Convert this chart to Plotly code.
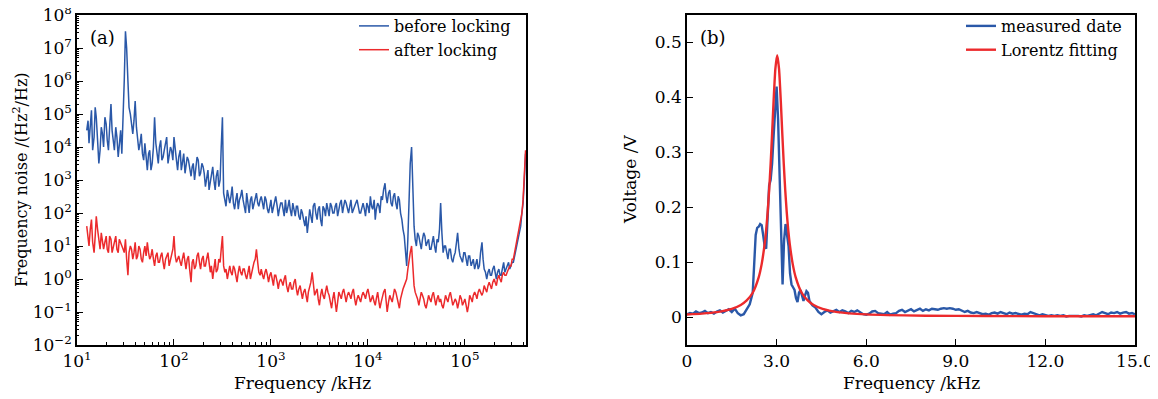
import plotly.graph_objects as go

# ---------------- panel (a): frequency noise spectrum ----------------
# samples on the main grid
freq_khz = [
    12.6, 13.3, 14.1, 15.0, 15.8, 16.8, 17.8, 18.8, 20.0, 21.1, 22.4, 23.7, 25.1, 26.6, 28.2, 29.9, 31.6, 33.5,
    35.5, 37.6, 39.8, 42.2, 44.7, 47.3, 50.1, 53.1, 56.2, 59.6, 63.1, 66.8, 70.8, 75.0, 79.4, 84.1, 89.1, 94.4,
    100, 106, 112, 119, 126, 133, 141, 150, 158, 168, 178, 188, 200, 211, 224, 237, 251, 266, 282, 299,
    316, 335, 355, 376, 398, 422, 447, 473, 501, 531, 562, 596, 631, 668, 708, 750, 794, 841, 891, 944,
    1000, 1060, 1120, 1190, 1260, 1330, 1410, 1500, 1580, 1680, 1780, 1880, 2000, 2110, 2240, 2370, 2510, 2660,
    2820, 2990, 3160, 3350, 3550, 3760, 3980, 4220, 4470, 4730, 5010, 5310, 5620, 5960, 6310, 6680, 7080, 7500,
    7940, 8410, 8910, 9440,
    10000, 10600, 11200, 11900, 12600, 13300, 14100, 15000, 15800, 16800, 17800, 18800, 20000, 21100, 22400,
    23700, 25100, 26600, 28200, 29900, 31600, 33500, 35500, 37600, 39800, 42200, 44700, 47300, 50100, 53100,
    56200, 59600, 63100, 66800, 70800, 75000, 79400, 84100, 89100, 94400,
    100000, 106000, 112000, 119000, 126000, 133000, 141000, 150000, 158000, 168000, 178000, 188000, 200000,
    211000, 224000, 237000, 251000, 266000, 282000, 299000, 316000, 335000, 355000, 376000, 398000, 422000,
]

noise_before = [
    3.2e4, 1.3e4, 1.3e5, 2e4, 8e4, 3.2e3, 4e4, 1e4, 5e4, 8e3, 2e5, 1.6e4, 4e4, 5e3, 3.2e4, 6.3e4, 3.2e7, 1e6,
    1e5, 2.5e4, 2.5e5, 2e4, 1.3e4, 6.3e3, 1.3e4, 2e3, 8e3, 3.2e3, 8e4, 6.3e3, 1e4, 4e3, 8e3, 2e4, 5e3, 8e3,
    2e4, 4e3, 5e3, 2e3, 6.3e3, 2.5e3, 4e3, 1.3e3, 3.2e3, 2e3, 4e3, 1.6e3, 2.5e3, 630, 2e3, 800, 2.5e3, 500,
    2e3, 1e3, 8e4, 250, 500, 200, 630, 130, 400, 250, 500, 160, 400, 100, 320, 200, 400, 160, 320, 130,
    250, 100, 250, 160, 320, 80, 200, 130, 250, 160, 130, 200, 80, 160, 63, 100, 40, 25, 130, 50,
    200, 63, 160, 40, 130, 200, 80, 160, 100, 200, 130, 250, 160, 200, 100, 250, 130, 200, 160, 100,
    200, 80, 160, 320, 130, 63, 200, 100, 250, 800, 200, 500, 160, 400, 130, 250, 63, 20, 2.5, 320,
    1e4, 40, 10, 20, 8, 25, 10, 16, 8, 20, 6.3, 13, 200, 6.3, 10, 4, 8, 3.2,
    6.3, 25, 5, 3.2, 6.3, 2.5, 5, 3.2, 2, 4, 2.5, 13, 2, 1, 2, 1.3, 2.5, 1,
    2, 1.3, 3.2, 2, 3.2, 2.5, 3.2, 6.3, 16, 40, 200, 6.3e3,
]

noise_after = [
    40, 10, 63, 6.3, 80, 13, 25, 8, 20, 6.3, 16, 10, 20, 6.3, 13, 8, 16, 1.3,
    10, 4, 13, 5, 8, 3.2, 10, 13, 4, 8, 2.5, 6.3, 3.2, 6.3, 2, 5, 2.5, 6.3,
    20, 3.2, 5, 2.5, 6.3, 2, 5, 0.8, 4, 2.5, 6.3, 2, 5, 2.5, 6.3, 1.6, 1, 4,
    2, 3.2, 20, 1.6, 1, 2.5, 1.3, 2, 0.8, 2.5, 1.3, 2, 1, 2.5, 1.6, 3.2, 8, 1.6,
    2, 1, 2, 0.8, 1.6, 0.63, 1.3, 0.5, 1, 0.63, 1.3, 0.4, 0.8, 0.5, 1, 0.32, 0.63, 0.25,
    0.5, 0.2, 0.63, 1.6, 0.32, 0.5, 0.16, 0.5, 0.25, 0.63, 0.32, 0.13, 0.4, 0.1, 0.4, 0.25, 0.5, 0.2,
    0.4, 0.25, 0.5, 0.16, 0.32, 0.2, 0.4, 0.25, 0.5, 0.2, 0.32, 0.16, 0.4, 0.13, 0.32, 0.5, 0.1, 0.32,
    0.2, 0.5, 0.25, 0.13, 0.4, 0.63, 1, 4, 10, 0.63, 0.32, 0.16, 0.4, 0.25, 0.13, 0.32, 0.2, 0.4,
    0.16, 0.32, 0.25, 0.13, 0.32, 0.2, 0.4, 0.16, 0.25, 0.13, 0.32, 0.16, 0.25, 0.1, 0.32, 0.2, 0.4, 0.25,
    0.5, 0.32, 0.63, 0.4, 0.8, 0.5, 1, 0.63, 1.3, 0.8, 1.6, 1.3, 2, 2.5, 4, 8, 20, 50,
    250, 8e3,
]

# samples lying between the main-grid samples
freq_khz_mid = [
    13.0, 13.7, 14.5, 15.4, 16.3, 17.3, 18.3, 19.4, 20.5, 21.7, 23.0, 24.3, 25.8, 27.3, 29.0, 30.7, 32.5, 34.4,
    36.5, 38.7, 41.0, 43.4, 46.0, 48.7, 51.6, 54.7, 57.9, 61.4, 65.0, 68.9, 73.0, 77.3, 81.9, 86.8, 92.0, 97.4,
    103, 109, 116, 122, 130, 137, 145, 154, 163, 173, 183, 194, 205, 217, 230, 243, 258, 273, 290, 307,
    325, 344, 365, 387, 410, 434, 460, 487, 516, 547, 579, 614, 650, 689, 730, 773, 819, 868, 920, 974,
    1030, 1090, 1160, 1220, 1300, 1370, 1450, 1540, 1630, 1730, 1830, 1940, 2050, 2170, 2300, 2430, 2580, 2730,
    2900, 3070, 3250, 3440, 3650, 3870, 4100, 4340, 4600, 4870, 5160, 5470, 5790, 6140, 6500, 6890, 7300, 7730,
    8190, 8680, 9200, 9740,
    10300, 10900, 11600, 12200, 13000, 13700, 14500, 15400, 16300, 17300, 18300, 19400, 20500, 21700, 23000,
    24300, 25800, 27300, 29000, 30700, 32500, 34400, 36500, 38700, 41000, 43400, 46000, 48700, 51600, 54700,
    57900, 61400, 65000, 68900, 73000, 77300, 81900, 86800, 92000, 97400,
    103000, 109000, 116000, 122000, 130000, 137000, 145000, 154000, 163000, 173000, 183000, 194000, 205000,
    217000, 230000, 243000, 258000, 273000, 290000, 307000, 325000, 344000, 365000, 387000, 410000,
]

noise_before_mid = [
    6.3e4, 4e4, 8e3, 1.6e5, 1.6e4, 8e3, 2.5e4, 8e4, 1.6e4, 4e4, 3.2e4, 8e3, 2e4, 1.3e4, 6.3e3, 1e6, 1e7, 1.6e5,
    4e4, 6.3e4, 4e4, 8e3, 2.5e4, 4e3, 5e3, 6.3e3, 2e3, 1e4, 1.3e4, 3.2e3, 1.6e4, 5e3, 1.3e4, 3.2e3, 1e4, 4e3,
    6.3e3, 2e3, 8e3, 3.2e3, 1.6e3, 5e3, 2e3, 2.5e3, 1e3, 5e3, 1.3e3, 3.2e3, 1.6e3, 1.3e3, 500, 1.3e3, 1e3,
    1.3e3, 630, 1e4, 400, 160, 320, 320, 200, 250, 130, 320, 250, 100, 200, 250, 130, 320, 200, 250,
    200, 320, 130, 160, 100, 200, 160, 130, 200, 80, 100, 250, 80, 130, 160, 80, 130, 63, 80, 50,
    80, 160, 100, 130, 63, 160, 80, 130, 200, 100, 160, 80, 200, 100, 250, 130, 160, 100, 160, 250,
    100, 160, 130, 200, 100, 160, 250, 130, 160, 320, 500, 320, 400, 200, 320, 200, 320, 100, 32, 8,
    16, 3.2e3, 250, 16, 25, 13, 16, 20, 13, 8, 13, 10, 16, 32, 25, 10, 6.3, 8,
    4, 5, 13, 8, 4, 6.3, 4, 5, 2.5, 4, 3.2, 2, 6.3, 4, 1.6, 1.6, 1.3, 2,
    1.6, 1.6, 1.3, 2, 1.6, 2.5, 2, 3.2, 5, 10, 25, 100, 1e3,
]

noise_after_mid = [
    16, 32, 13, 20, 32, 8, 16, 13, 8, 20, 6.3, 13, 8, 16, 10, 6.3, 4, 6.3,
    8, 6.3, 4, 10, 4, 6.3, 5, 6.3, 5, 4, 5, 3.2, 5, 3.2, 4, 6.3, 4, 8,
    5, 4, 3.2, 4, 3.2, 4, 2, 3.2, 2, 5, 3.2, 4, 2.5, 4, 3.2, 2.5, 2, 1.6,
    4, 8, 2.5, 2, 1.6, 1.6, 2.5, 1.3, 1.6, 1.6, 2, 1.3, 1.6, 1, 2, 4, 3.2, 1.3,
    1.3, 1.6, 1.3, 1.3, 1, 1.3, 0.8, 0.8, 0.8, 1, 0.63, 0.63, 0.5, 0.8, 0.5, 0.5, 0.4, 0.4,
    0.32, 0.4, 0.8, 0.63, 0.4, 0.25, 0.32, 0.32, 0.4, 0.4, 0.2, 0.25, 0.2, 0.2, 0.32, 0.4, 0.32, 0.32,
    0.32, 0.4, 0.25, 0.25, 0.25, 0.32, 0.32, 0.4, 0.32, 0.25, 0.2, 0.25, 0.2, 0.2, 0.4, 0.2, 0.2, 0.25,
    0.32, 0.4, 0.16, 0.25, 0.5, 0.8, 2, 6.3, 2, 0.4, 0.25, 0.25, 0.32, 0.16, 0.2, 0.25, 0.32, 0.25,
    0.25, 0.2, 0.16, 0.2, 0.25, 0.32, 0.25, 0.2, 0.2, 0.2, 0.25, 0.2, 0.16, 0.16, 0.25, 0.32, 0.32, 0.4,
    0.4, 0.4, 0.5, 0.63, 0.63, 0.8, 0.8, 1, 1, 1.3, 1.3, 1.6, 2.5, 4, 6.3, 13, 32, 100,
    1e3,
]

assert len(freq_khz) == len(noise_before) == len(noise_after)
assert len(freq_khz_mid) == len(noise_before_mid) == len(noise_after_mid)

spectrum = sorted(zip(freq_khz + freq_khz_mid, noise_before + noise_before_mid, noise_after + noise_after_mid))
spec_f = [p[0] for p in spectrum]
spec_before = [p[1] for p in spectrum]
spec_after = [p[2] for p in spectrum]

left_xticks = [10, 100, 1000, 10000, 100000]
left_xtick_text = ["10<sup>1</sup>", "10<sup>2</sup>", "10<sup>3</sup>", "10<sup>4</sup>", "10<sup>5</sup>"]
left_yticks = [1e-2, 1e-1, 1, 10, 100, 1e3, 1e4, 1e5, 1e6, 1e7, 1e8]
left_ytick_text = ["10<sup>−2</sup>", "10<sup>−1</sup>", "10<sup>0</sup>", "10<sup>1</sup>", "10<sup>2</sup>",
                   "10<sup>3</sup>", "10<sup>4</sup>", "10<sup>5</sup>", "10<sup>6</sup>", "10<sup>7</sup>",
                   "10<sup>8</sup>"]

# ---------------- panel (b): beat note / Lorentz fit ----------------
meas_freq = [
    0.0, 0.1, 0.2, 0.3, 0.4, 0.5, 0.6, 0.7, 0.8, 0.9, 1.0, 1.1, 1.2, 1.3, 1.4, 1.5, 1.6, 1.7, 1.8, 1.9,
    2.0, 2.1, 2.2, 2.25, 2.3, 2.35, 2.4, 2.45, 2.5, 2.55, 2.6, 2.65, 2.7, 2.75, 2.8, 2.85, 2.9, 2.95,
    3.0, 3.05, 3.1, 3.15, 3.2, 3.25, 3.3, 3.35, 3.4, 3.45, 3.5, 3.55, 3.6, 3.65, 3.7, 3.75, 3.8, 3.85,
    3.9, 3.95, 4.0, 4.05, 4.1, 4.2, 4.3, 4.4, 4.5, 4.6, 4.7, 4.8, 4.9, 5.0, 5.1, 5.2, 5.3, 5.4, 5.5,
    5.6, 5.7, 5.8, 5.9, 6.0, 6.1, 6.2, 6.3, 6.4, 6.5, 6.6, 6.7, 6.8, 6.9, 7.0, 7.1, 7.2, 7.3, 7.4, 7.5,
    7.6, 7.7, 7.8, 7.9, 8.0, 8.1, 8.2, 8.3, 8.4, 8.5, 8.6, 8.7, 8.8, 8.9, 9.0, 9.1, 9.2, 9.3, 9.4, 9.5,
    9.6, 9.7, 9.8, 9.9, 10.0, 10.1, 10.2, 10.3, 10.4, 10.5, 10.6, 10.7, 10.8, 10.9, 11.0, 11.1, 11.2,
    11.3, 11.4, 11.5, 11.6, 11.7, 11.8, 11.9, 12.0, 12.1, 12.2, 12.3, 12.4, 12.5, 12.6, 12.7, 12.8,
    12.9, 13.0, 13.1, 13.2, 13.3, 13.4, 13.5, 13.6, 13.7, 13.8, 13.9, 14.0, 14.1, 14.2, 14.3, 14.4,
    14.5, 14.6, 14.7, 14.8, 14.9, 15.0,
]
meas_volt = [
    0.006, 0.008, 0.007, 0.011, 0.008, 0.009, 0.012, 0.008, 0.010, 0.007, 0.011, 0.013, 0.009, 0.012,
    0.015, 0.010, 0.016, 0.008, 0.004, 0.006,
    0.015, 0.024, 0.045, 0.09, 0.15, 0.163, 0.165, 0.17, 0.168, 0.15, 0.13, 0.125, 0.20, 0.24, 0.25,
    0.28, 0.33, 0.38,
    0.42, 0.36, 0.27, 0.14, 0.06, 0.14, 0.17, 0.15, 0.13, 0.08, 0.06, 0.055, 0.05, 0.035, 0.028, 0.045,
    0.05, 0.04,
    0.03, 0.04, 0.048, 0.045, 0.03, 0.022, 0.018, 0.010, 0.006, 0.010, 0.013, 0.009, 0.012, 0.014, 0.010,
    0.013, 0.011, 0.008, 0.012,
    0.010, 0.013, 0.009, 0.006, 0.005, 0.007, 0.011, 0.012, 0.008, 0.007, 0.006, 0.010, 0.005, 0.007,
    0.008, 0.012, 0.014, 0.010, 0.013, 0.015,
    0.011, 0.014, 0.016, 0.012, 0.015, 0.013, 0.016, 0.015, 0.014, 0.016, 0.017, 0.016, 0.017, 0.016,
    0.014, 0.015, 0.012, 0.010, 0.012, 0.009,
    0.008, 0.010, 0.008, 0.006, 0.007, 0.005, 0.008, 0.009, 0.007, 0.010, 0.008, 0.006, 0.009, 0.007,
    0.008, 0.006, 0.005,
    0.007, 0.006, 0.010, 0.008, 0.005, 0.004, 0.006, 0.005, 0.003, 0.004, 0.003, 0.004, 0.003, 0.004,
    0.002, 0.003,
    0.003, 0.004, 0.003, 0.002, 0.004, 0.003, 0.005, 0.006, 0.004, 0.007, 0.010, 0.008, 0.006, 0.009,
    0.008, 0.010,
    0.007, 0.009, 0.010, 0.007, 0.008, 0.006,
]

fit_freq = [0.0, 0.5, 1.0, 1.5, 1.8, 2.0, 2.2, 2.4, 2.5, 2.6, 2.65, 2.7, 2.75, 2.8, 2.85, 2.9, 2.96,
            3.02, 3.08, 3.14, 3.19, 3.24, 3.29, 3.34, 3.39, 3.44, 3.54, 3.64, 3.84, 4.04, 4.24, 4.54,
            5.04, 6.0, 8.0, 10.0, 12.0, 15.0]
fit_volt = [0.0055, 0.007, 0.0097, 0.0155, 0.0227, 0.031, 0.045, 0.073, 0.097, 0.134, 0.159, 0.191,
            0.231, 0.279, 0.335, 0.394, 0.453, 0.477, 0.453, 0.394, 0.335, 0.279, 0.231, 0.191, 0.159,
            0.134, 0.097, 0.073, 0.045, 0.031, 0.0227, 0.0155, 0.0097, 0.0056, 0.0033, 0.0027, 0.0024,
            0.0022]

right_xticks = [0, 3, 6, 9, 12, 15]
right_xtick_text = ["0", "3.0", "6.0", "9.0", "12.0", "15.0"]
right_yticks = [0, 0.1, 0.2, 0.3, 0.4, 0.5]
right_ytick_text = ["0", "0.1", "0.2", "0.3", "0.4", "0.5"]

BLUE = "#2a58a8"
RED = "#ec2a2c"
FONT = "DejaVu Serif"

# the page body adds an 8 px margin, so the figure is drawn 8 px in from the window corner
OFF = 8
W, H = 1158 - OFF, 399 - OFF


def px(x):
    return (x - OFF) / W


def py(y):
    return 1 - (y - OFF) / H


fig = go.Figure()
fig.add_trace(go.Scatter(x=spec_f, y=spec_before, mode="lines", name="before locking",
                         line=dict(color=BLUE, width=1.5), xaxis="x", yaxis="y", legend="legend"))
fig.add_trace(go.Scatter(x=spec_f, y=spec_after, mode="lines", name="after locking",
                         line=dict(color=RED, width=1.5), xaxis="x", yaxis="y", legend="legend"))
fig.add_trace(go.Scatter(x=meas_freq, y=meas_volt, mode="lines", name="measured date",
                         line=dict(color=BLUE, width=2.4), xaxis="x2", yaxis="y2", legend="legend2"))
fig.add_trace(go.Scatter(x=fit_freq, y=fit_volt, mode="lines", name="Lorentz fitting",
                         line=dict(color=RED, width=2.4, shape="spline", smoothing=0.6),
                         xaxis="x2", yaxis="y2", legend="legend2"))

ydom = [py(345), py(15)]
common = dict(showline=True, linecolor="black", linewidth=1.5, mirror=True, ticks="inside",
              ticklen=6, tickwidth=1.2, tickcolor="black", showgrid=False, zeroline=False,
              automargin=False, tickmode="array", ticklabeloverflow="allow",
              tickfont=dict(family=FONT, size=17, color="black"))

fig.update_layout(
    width=W, height=H,
    margin=dict(l=0, r=0, t=0, b=0),
    paper_bgcolor="white", plot_bgcolor="white",
    font=dict(family=FONT, size=16, color="black"),
    xaxis=dict(type="log", range=[1, 5.63], domain=[px(77), px(526)], anchor="y",
               tickvals=left_xticks, ticktext=left_xtick_text,
               minor=dict(ticks="inside", ticklen=3, tickcolor="black", dtick="D1", showgrid=False),
               **common),
    yaxis=dict(type="log", range=[-2, 8.002], domain=ydom, anchor="x",
               tickvals=left_yticks, ticktext=left_ytick_text,
               minor=dict(ticks="inside", ticklen=2, tickcolor="black", dtick="D1", showgrid=False),
               **common),
    xaxis2=dict(range=[0, 15], domain=[px(687), px(1135)], anchor="y2",
                tickvals=right_xticks, ticktext=right_xtick_text, **common),
    yaxis2=dict(range=[-0.05, 0.55], domain=ydom, anchor="x2",
                tickvals=right_yticks, ticktext=right_ytick_text, **common),
    legend=dict(x=px(354), y=py(9), xanchor="left", yanchor="top", bgcolor="rgba(0,0,0,0)",
                font=dict(family=FONT, size=16), tracegroupgap=0),
    legend2=dict(x=px(961), y=py(9), xanchor="left", yanchor="top", bgcolor="rgba(0,0,0,0)",
                 font=dict(family=FONT, size=16), tracegroupgap=0),
    annotations=[
        dict(text="(a)", x=px(102), y=py(37), xref="paper", yref="paper", showarrow=False,
             xanchor="center", yanchor="middle", font=dict(family=FONT, size=18)),
        dict(text="(b)", x=px(713), y=py(37), xref="paper", yref="paper", showarrow=False,
             xanchor="center", yanchor="middle", font=dict(family=FONT, size=18)),
        dict(text="Frequency /kHz", x=px(302), y=py(383), xref="paper", yref="paper",
             xanchor="center", yanchor="middle", showarrow=False, font=dict(family=FONT, size=17)),
        dict(text="Frequency /kHz", x=px(911), y=py(383), xref="paper", yref="paper",
             xanchor="center", yanchor="middle", showarrow=False, font=dict(family=FONT, size=17)),
        dict(text="Frequency noise /(Hz<sup>2</sup>/Hz)", x=px(20), y=py(180), xref="paper",
             yref="paper", xanchor="center", yanchor="middle", showarrow=False, textangle=-90,
             font=dict(family=FONT, size=16)),
        dict(text="Voltage /V", x=px(630), y=py(180), xref="paper", yref="paper",
             xanchor="center", yanchor="middle", showarrow=False, textangle=-90,
             font=dict(family=FONT, size=17)),
    ],
)

fig.write_html("out.html")
